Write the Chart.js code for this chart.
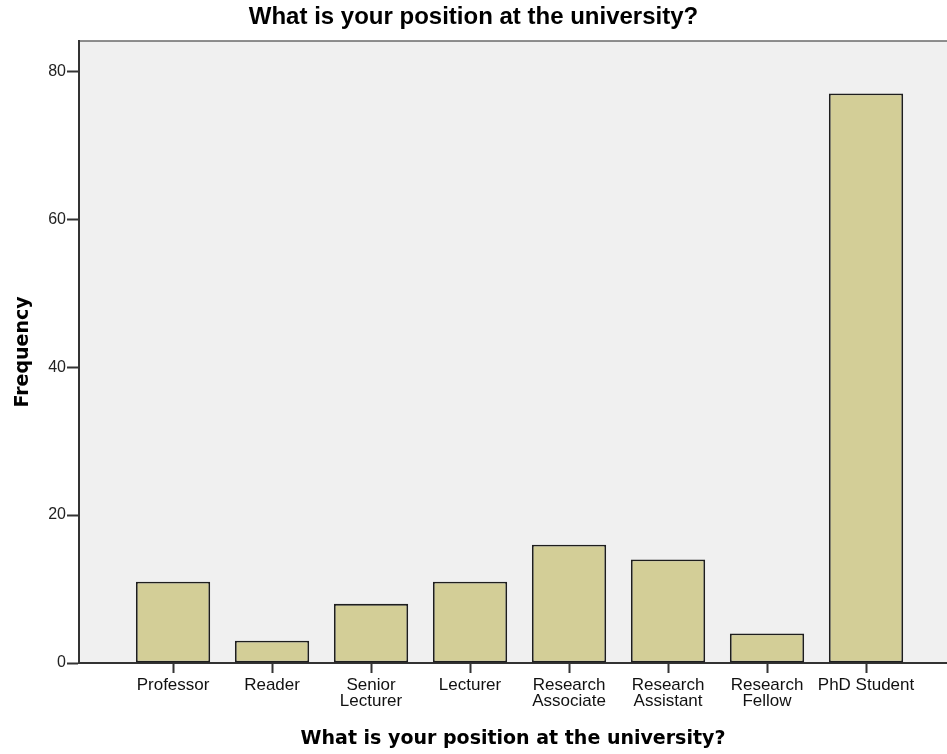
<!DOCTYPE html>
<html>
<head>
<meta charset="utf-8">
<script src="https://cdn.jsdelivr.net/npm/chart.js@4"></script>
<style>
  html, body { margin: 0; padding: 0; background: #fff; }
  canvas { display: block; }
</style>
</head>
<body>
<canvas id="chart" width="947" height="754"></canvas>
<script>
// categories as they appear on the x axis (arrays = two-line labels)
const categories = [
    'Professor',
    'Reader',
    ['Senior', 'Lecturer'],
    'Lecturer',
    ['Research', 'Associate'],
    ['Research', 'Assistant'],
    ['Research', 'Fellow'],
    'PhD Student'
];
const frequencies = [11, 3, 8, 11, 16, 14, 4, 77];
const yTicks = [0, 20, 40, 60, 80];

const chartTitle = 'What is your position at the university?';
const xTitle = 'What is your position at the university?';
const yTitle = 'Frequency';

// grey plot background + top frame line, SPSS style
const plotFrame = {
    id: 'plotFrame',
    beforeDraw(chart) {
        const { ctx, chartArea: a } = chart;
        ctx.save();
        ctx.fillStyle = '#f0f0f0';
        ctx.fillRect(a.left, a.top, a.right - a.left, a.bottom - a.top);
        ctx.strokeStyle = '#6a6a6a';
        ctx.lineWidth = 1.5;
        ctx.beginPath();
        ctx.moveTo(a.left, a.top);
        ctx.lineTo(a.right, a.top);
        ctx.stroke();
        ctx.restore();
    }
};

const points = categories.map((c, i) => ({ x: i, y: frequencies[i] }));

const chart_config = {
    type: 'bar',
    data: {
        datasets: [{
            data: points,
            backgroundColor: '#d3ce97',
            borderColor: '#1e1e1e',
            borderWidth: 1.8,
            borderSkipped: false,
            categoryPercentage: 1,
            barPercentage: 0.75
        }]
    },
    options: {
        responsive: false,
        animation: false,
        layout: { padding: 0 },
        plugins: {
            legend: { display: false },
            tooltip: { enabled: false },
            title: {
                display: true,
                text: chartTitle,
                color: '#000',
                font: { family: 'Liberation Sans', size: 24, weight: 'bold', lineHeight: 1.2 },
                padding: { top: 2.5, bottom: 9.7 }
            }
        },
        scales: {
            x: {
                type: 'linear',
                offset: false,
                min: -0.95,
                max: 7.818,
                afterBuildTicks(axis) {
                    axis.ticks = categories.map((c, i) => ({ value: i }));
                },
                afterFit(axis) {
                    axis.height = 91;
                },
                ticks: {
                    autoSkip: false,
                    maxRotation: 0,
                    color: '#111',
                    padding: 5,
                    font: { family: 'Liberation Sans', size: 17, lineHeight: 0.9 },
                    callback: (value) => categories[value]
                },
                grid: {
                    offset: false,
                    drawOnChartArea: false,
                    drawTicks: true,
                    tickLength: 10,
                    tickColor: '#333',
                    tickWidth: 2
                },
                border: { display: true, color: '#333', width: 2 },
                title: {
                    display: true,
                    text: xTitle,
                    color: '#000',
                    font: { family: 'DejaVu Sans', size: 19, weight: 'bold', lineHeight: 1.2 },
                    padding: { top: 0, bottom: 3.6 }
                }
            },
            y: {
                min: 0,
                max: 84.1,
                afterBuildTicks(axis) {
                    axis.ticks = yTicks.map(v => ({ value: v }));
                },
                afterFit(axis) {
                    axis.width = 79;
                },
                ticks: {
                    color: '#222',
                    padding: 1,
                    font: { family: 'Liberation Sans', size: 16 }
                },
                grid: {
                    drawOnChartArea: false,
                    drawTicks: true,
                    tickLength: 12,
                    tickColor: '#333',
                    tickWidth: 2
                },
                border: { display: true, color: '#333', width: 2 },
                title: {
                    display: true,
                    text: yTitle,
                    color: '#000',
                    font: { family: 'DejaVu Sans', size: 19, weight: 'bold', lineHeight: 1.2 },
                    padding: { top: 12, bottom: 0 }
                }
            }
        }
    },
    plugins: [plotFrame]
};

new Chart(document.getElementById('chart'), chart_config);
</script>
</body>
</html>
